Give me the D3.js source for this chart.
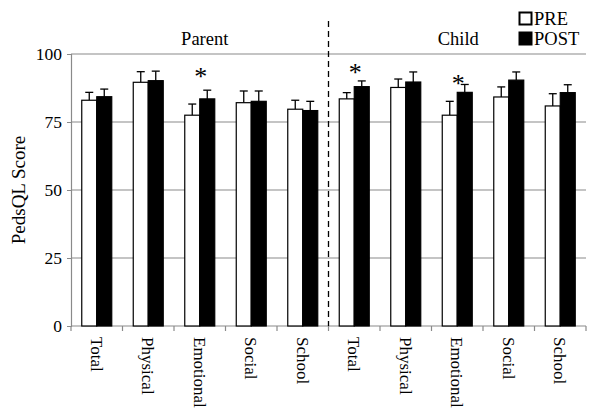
<!DOCTYPE html>
<html><head><meta charset="utf-8">
<script src="https://cdn.jsdelivr.net/npm/d3@7"></script>
<style>body{margin:0;background:#fff;} svg{display:block;}</style>
</head><body>
<svg id="chart" width="600" height="417"></svg>
<script>
const groups = ["Parent", "Child"];
const domains = ["Total", "Physical", "Emotional", "Social", "School"];
const series = ["PRE", "POST"];
const preValues  = [83.0, 89.6, 77.5, 82.1, 79.7, 83.5, 87.7, 77.5, 84.2, 80.9];
const preErrors  = [2.9, 3.9, 4.1, 4.3, 3.3, 2.3, 3.1, 5.1, 3.7, 4.5];
const postValues = [84.3, 90.2, 83.5, 82.6, 79.2, 88.0, 89.7, 85.9, 90.4, 85.8];
const postErrors = [2.8, 3.5, 3.2, 3.8, 3.4, 2.1, 3.7, 2.9, 3.0, 2.9];
const asteriskIndex = [2, 5, 7];
const asteriskValue = [93.0, 94.5, 90.4];
const yTicks = [0, 25, 50, 75, 100];

const font = "'Liberation Serif','Times New Roman',serif";
const svg = d3.select("#chart");
const pLeft = 71, pRight = 586, pTop = 54, pBottom = 326;

const keys = [];
groups.forEach(g => domains.forEach(d => keys.push(g + "|" + d)));

const x = d3.scaleBand().domain(keys).range([pLeft, pRight]).padding(0);
const xs = d3.scaleBand().domain(series).range([0, x.bandwidth()]).paddingInner(0).paddingOuter(0.717);
const y = d3.scaleLinear().domain([0, 100]).range([pBottom, pTop]);

// gridlines
svg.append("g").selectAll("line").data(yTicks.filter(t => t > 0)).join("line")
  .attr("x1", pLeft).attr("x2", pRight)
  .attr("y1", d => y(d)).attr("y2", d => y(d))
  .attr("stroke", "#8a8a8a").attr("stroke-width", 1.2);

// y axis
const yAxis = svg.append("g").attr("transform", `translate(${pLeft},0)`)
  .call(d3.axisLeft(y).tickValues(yTicks).tickSize(4).tickPadding(5));
yAxis.select(".domain").attr("stroke", "#8a8a8a").attr("stroke-width", 1.2);
yAxis.selectAll(".tick line").attr("stroke", "#8a8a8a");
yAxis.selectAll("text").attr("font-family", font).attr("font-size", 17.5).attr("fill", "#000");

// x axis
const boundaries = keys.map(k => x(k) + x.bandwidth()).concat([pLeft]);
svg.append("line").attr("x1", pLeft).attr("x2", pRight).attr("y1", pBottom).attr("y2", pBottom)
  .attr("stroke", "#8a8a8a").attr("stroke-width", 1.2);
svg.append("g").selectAll("line").data(boundaries).join("line")
  .attr("x1", d => d).attr("x2", d => d).attr("y1", pBottom).attr("y2", pBottom + 5)
  .attr("stroke", "#8a8a8a").attr("stroke-width", 1.2);
svg.append("g").selectAll("text").data(keys).join("text")
  .attr("transform", k => `translate(${x(k) + x.bandwidth() / 2},${pBottom + 11}) rotate(90)`)
  .attr("dy", "0.35em")
  .attr("font-family", font).attr("font-size", 17).attr("fill", "#000")
  .text(k => k.split("|")[1]);

// bars
const barData = [];
keys.forEach((k, i) => {
  barData.push({k, s: "PRE", v: preValues[i], e: preErrors[i]});
  barData.push({k, s: "POST", v: postValues[i], e: postErrors[i]});
});
const eg = svg.append("g");
barData.forEach(d => {
  const cx = x(d.k) + xs(d.s) + xs.bandwidth() / 2;
  eg.append("line").attr("x1", cx).attr("x2", cx).attr("y1", y(d.v)).attr("y2", y(d.v + d.e))
    .attr("stroke", "#000").attr("stroke-width", 1.3);
  eg.append("line").attr("x1", cx - 4).attr("x2", cx + 4).attr("y1", y(d.v + d.e)).attr("y2", y(d.v + d.e))
    .attr("stroke", "#000").attr("stroke-width", 1.3);
});
svg.append("g").selectAll("rect").data(barData).join("rect")
  .attr("x", d => x(d.k) + xs(d.s))
  .attr("width", xs.bandwidth())
  .attr("y", d => y(d.v))
  .attr("height", d => y(0) - y(d.v))
  .attr("fill", d => d.s === "PRE" ? "#fff" : "#000")
  .attr("stroke", "#000").attr("stroke-width", 1.2);

// asterisks
svg.append("g").selectAll("text").data(asteriskIndex).join("text")
  .attr("x", d => x(keys[d]) + x.bandwidth() / 2 + 1)
  .attr("y", (d, i) => y(asteriskValue[i]) + 12)
  .attr("text-anchor", "middle")
  .attr("font-family", font).attr("font-size", 26).attr("fill", "#000")
  .text("*");

// divider
const divX = x(keys[5]);
svg.append("line").attr("x1", divX).attr("x2", divX).attr("y1", 21).attr("y2", pBottom)
  .attr("stroke", "#000").attr("stroke-width", 1.3).attr("stroke-dasharray", "6,4");

// group titles
groups.forEach((g, gi) => {
  const x0 = x(keys[gi * 5]), x1 = x(keys[gi * 5 + 4]) + x.bandwidth();
  svg.append("text").attr("x", (x0 + x1) / 2 + (gi === 0 ? 5 : 1)).attr("y", 45)
    .attr("text-anchor", "middle").attr("font-family", font).attr("font-size", 18.5).attr("fill", "#000")
    .text(g);
});

// y title
svg.append("text").attr("transform", `translate(25,190) rotate(-90)`)
  .attr("text-anchor", "middle").attr("font-family", font).attr("font-size", 19).attr("fill", "#000")
  .text("PedsQL Score");

// legend
const leg = svg.append("g");
series.forEach((s, i) => {
  const yy = 12 + i * 20;
  leg.append("rect").attr("x", 519.5).attr("y", yy + 0.5).attr("width", 12).attr("height", 12)
    .attr("fill", s === "PRE" ? "#fff" : "#000").attr("stroke", "#000").attr("stroke-width", 2);
  leg.append("text").attr("x", 534).attr("y", yy + 12.5)
    .attr("font-family", font).attr("font-size", 18.5).attr("fill", "#000").text(s);
});
</script>
</body></html>
